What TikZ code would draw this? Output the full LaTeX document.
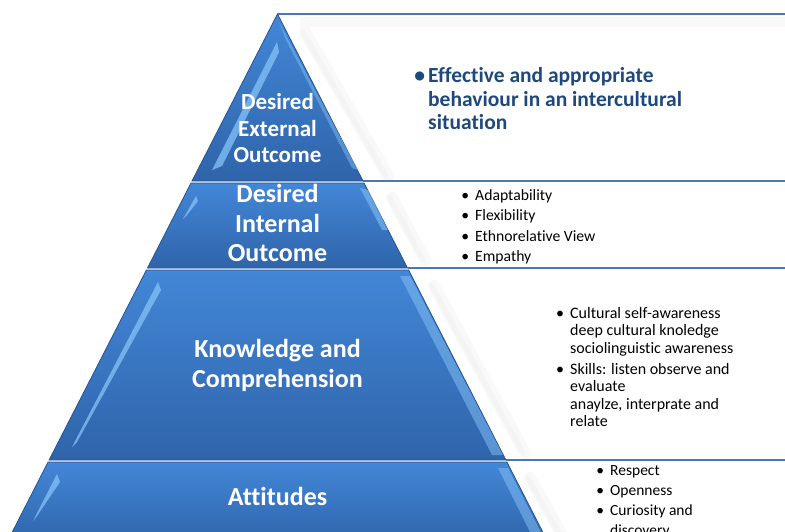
\documentclass[tikz,border=0pt]{standalone}
\usepackage{fontspec}
\setmainfont{Carlito}[Ligatures=NoCommon]
\definecolor{pyrtop}{HTML}{4387D7}
\definecolor{pyrbot}{HTML}{2F64AA}
\definecolor{pyredge}{HTML}{28538E}
\definecolor{hilite}{HTML}{86C3F7}
\definecolor{rulecol}{HTML}{4A78B2}
\definecolor{darkblue}{HTML}{1F497D}
\begin{document}
\begin{tikzpicture}[x=1pt,y=-1pt,
  band/.style={top color=pyrtop, bottom color=pyrbot, draw=pyredge, line width=0.8pt},
  shine/.style={fill=hilite, draw=none, opacity=0.75},
  toprule/.style={draw=rulecol, line width=2pt},
  softshadow/.style={draw=gray!5, line width=12pt, line cap=round},
  softshadowin/.style={draw=gray!9, line width=5pt, line cap=round},
  lab/.style={text=white, align=center, inner sep=0pt},
  list/.style={text=black, align=left, inner sep=0pt, anchor=north west}]
\useasboundingbox (0,0) rectangle (785,531);
\fill[white] (0,0) rectangle (785,531);

% soft shadows inside the white boxes
\draw[draw=gray!5, line width=10pt] (300,22) -- (785,22);
\draw[softshadow] (305,32) -- (388,176);
\draw[softshadowin] (303,32) -- (386,176);
\draw[softshadow] (392,198) -- (425,260);
\draw[softshadowin] (390,198) -- (423,260);
\draw[softshadow] (434,286) -- (525,453);
\draw[softshadowin] (432,286) -- (523,453);
\draw[softshadow] (530,478) -- (562,535);
\draw[softshadowin] (528,478) -- (560,535);

% rules on top of each text box
\coordinate (r1) at (785,14);
\coordinate (r2) at (785,181);
\coordinate (r3) at (785,268);
\coordinate (r4) at (785,460);
\coordinate (p1) at (277.5,14);
\coordinate (p2) at (363,181);
\coordinate (p3) at (407.5,268);
\coordinate (p4) at (506,460);
\draw[toprule] (p1) -- (r1);
\draw[toprule] (p2) -- (r2);
\draw[toprule] (p3) -- (r3);
\draw[toprule] (p4) -- (r4);

% pyramid bands
\path[band] (277.5,14) -- (363,181) -- (192,181) -- cycle;
\path[band] (191,183) -- (364,183) -- (407.5,268) -- (147.5,268) -- cycle;
\path[band] (146.4,270) -- (408.6,270) -- (505.9,460) -- (49.1,460) -- cycle;
\path[band] (48.1,462) -- (506.9,462) -- (549.4,545) -- (5.6,545) -- cycle;

% bevel highlights
\path[shine] (277,42) -- (279,52) -- (222,166) -- (212,170) -- cycle;
\path[shine, opacity=0.45] (279,22) -- (286,40) -- (352,168) -- (358,170) -- cycle;
\path[shine] (196,196) -- (198,201) -- (187,215) -- (183,219) -- cycle;
\path[shine, opacity=0.55] (360,188) -- (368,190) -- (388,230) -- (382,230) -- cycle;
\path[shine] (158,282) -- (161,290) -- (77,442) -- (72,447) -- cycle;
\path[shine, opacity=0.5] (400,276) -- (410,276) -- (503,455) -- (492,455) -- cycle;
\path[shine] (57,474) -- (60,482) -- (37,516) -- (33,521) -- cycle;
\path[shine, opacity=0.5] (498,468) -- (508,468) -- (545,540) -- (534,540) -- cycle;

% pyramid labels
\node[lab, font=\bfseries\fontsize{23}{26.5}\selectfont] (ext) at (277.5,128.5) {Desired\\External\\Outcome};
\node[lab, font=\bfseries\fontsize{26}{29.5}\selectfont] (int) at (277.5,223.4) {Desired\\Internal\\Outcome};
\node[lab, font=\bfseries\fontsize{26}{30}\selectfont] (kc) at (277.5,365.3) {Knowledge and\\Comprehension};
\node[lab, font=\bfseries\fontsize{26}{29}\selectfont] (att) at (277.5,496.6) {Attitudes};

% right-hand texts
\node[list, text=darkblue, font=\bfseries\fontsize{21.5}{23.5}\selectfont] (t1) at (428,67.5)
  {\llap{\textbullet\hspace{3pt}}Effective and appropriate\\behaviour in an intercultural\\situation};
\node[list, font=\fontsize{15.7}{20.3}\selectfont] (t2) at (475,189.3)
  {\llap{\textbullet\hspace{6pt}}Adaptability\\\llap{\textbullet\hspace{6pt}}Flexibility\\\llap{\textbullet\hspace{6pt}}Ethnorelative View\\\llap{\textbullet\hspace{6pt}}Empathy};
\node[list, font=\fontsize{16}{17.5}\selectfont] (t3) at (570,306.8)
  {\llap{\textbullet\hspace{6pt}}Cultural self-awareness\\deep cultural knoledge\\sociolinguistic awareness\\[3.5pt]\llap{\textbullet\hspace{6pt}}Skills: listen observe and\\evaluate\\anaylze, interprate and\\relate};
\node[list, font=\fontsize{15.5}{20}\selectfont] (t4) at (610,465)
  {\llap{\textbullet\hspace{6pt}}Respect\\\llap{\textbullet\hspace{6pt}}Openness\\\llap{\textbullet\hspace{6pt}}Curiosity and\\discovery};
\end{tikzpicture}
\end{document}
